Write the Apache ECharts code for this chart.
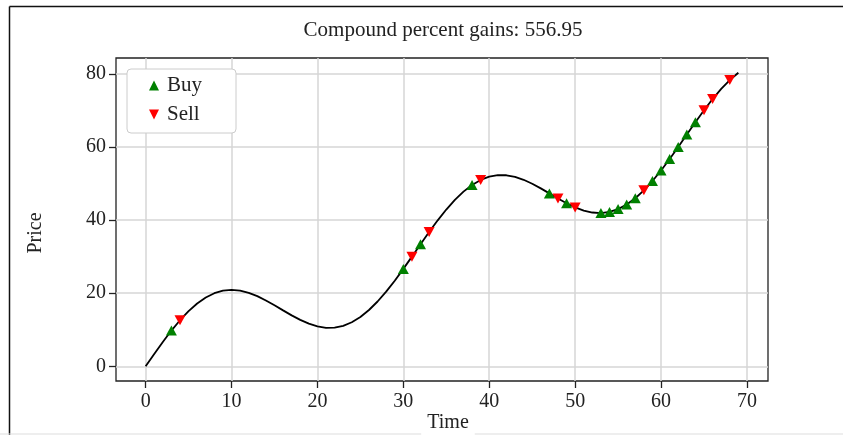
<!DOCTYPE html>
<html>
<head>
<meta charset="utf-8">
<script src="https://cdn.jsdelivr.net/npm/echarts@6/dist/echarts.min.js"></script>
<style>
html,body{margin:0;padding:0;background:#fff;}
#chart{width:843px;height:435px;}
</style>
</head>
<body>
<div id="chart"></div>
<script>
const times = [0,1,2,3,4,5,6,7,8,9,10,11,12,13,14,15,16,17,18,19,20,21,22,23,24,25,26,27,28,29,30,31,32,33,34,35,36,37,38,39,40,41,42,43,44,45,46,47,48,49,50,51,52,53,54,55,56,57,58,59,60,61,62,63,64,65,66,67,68,69];
const prices = [0,3.38,6.67,9.78,12.61,15.10,17.18,18.83,19.99,20.69,
  20.91,20.70,20.11,19.19,18.02,16.69,15.30,13.93,12.69,11.66,
  10.92,10.54,10.58,11.08,12.05,13.49,15.40,17.73,20.42,23.42,
  26.65,30.00,33.40,36.74,39.93,42.88,45.52,47.78,49.61,50.98,
  51.87,52.29,52.26,51.81,51.02,49.95,48.67,47.30,45.91,44.60,
  43.47,42.60,42.07,41.93,42.23,43.00,44.25,45.97,48.13,50.68,
  53.56,56.70,60.01,63.40,66.78,70.04,73.11,75.88,78.31,80.32];
const buyTimes = [3,30,32,38,47,49,53,54,55,56,57,59,60,61,62,63,64];
const sellTimes = [4,31,33,39,48,50,58,65,66,68];
const xTicks = [0,10,20,30,40,50,60,70];
const yTicks = [0,20,40,60,80];
const titleText = 'Compound percent gains: 556.95';
const xName = 'Time';
const yName = 'Price';

const FONT = "'Liberation Serif', 'DejaVu Serif', serif";
const chart = echarts.init(document.getElementById('chart'), null, {renderer: 'canvas'});

const lineData = times.map((t, i) => [t, prices[i]]);
const buyData = buyTimes.map(t => [t, prices[times.indexOf(t)]]);
const sellData = sellTimes.map(t => [t, prices[times.indexOf(t)]]);

const option = {
  animation: false,
  backgroundColor: '#ffffff',
  grid: {
    left: 116, right: 75, top: 58, bottom: 54,
    show: true, borderColor: '#222', borderWidth: 1.3,
    containLabel: false
  },
  legend: {
    orient: 'vertical',
    left: 127, top: 69,
    padding: [6, 34, 8, 22],
    itemWidth: 10, itemHeight: 10,
    itemGap: 8,
    backgroundColor: '#ffffff',
    borderColor: '#cccccc', borderWidth: 1, borderRadius: 4,
    textStyle: {fontFamily: FONT, fontSize: 21, lineHeight: 20, color: '#222', padding: [0,0,0,3]},
    data: ['Buy', 'Sell']
  },
  xAxis: {
    type: 'value', min: -3.45, max: 72.45,
    axisLine: {show: false, onZero: false},
    axisTick: {show: true, inside: false, length: 7, lineStyle: {color: '#222', width: 1.3}, customValues: xTicks},
    axisLabel: {fontFamily: FONT, fontSize: 20, color: '#222', margin: 11, customValues: xTicks},
    splitLine: {show: true, lineStyle: {color: '#d6d6d6', width: 1.5}}
  },
  yAxis: {
    type: 'value', min: -4.02, max: 84.34,
    axisLine: {show: false, onZero: false},
    axisTick: {show: true, inside: false, length: 7, lineStyle: {color: '#222', width: 1.3}, customValues: yTicks},
    axisLabel: {fontFamily: FONT, fontSize: 20, color: '#222', margin: 10, customValues: yTicks},
    splitLine: {show: true, lineStyle: {color: '#d6d6d6', width: 1.5}}
  },
  graphic: [
    {type: 'line', shape: {x1: 9.5, y1: 6.5, x2: 843, y2: 6.5}, style: {stroke: '#111', lineWidth: 1.5}, z: 1},
    {type: 'line', shape: {x1: 9.5, y1: 6.5, x2: 9.5, y2: 435}, style: {stroke: '#111', lineWidth: 1.5}, z: 1},
    {type: 'line', shape: {x1: 0, y1: 434, x2: 843, y2: 434}, style: {stroke: '#dddddd', lineWidth: 1}, z: 1},
    {type: 'text', x: 443, y: 30, z: 10,
      style: {text: titleText, fontFamily: FONT, fontSize: 21, fill: '#222', textAlign: 'center', textVerticalAlign: 'middle'}},
    {type: 'text', x: 448, y: 423, z: 10,
      style: {text: xName, fontFamily: FONT, fontSize: 20, fill: '#222', textAlign: 'center', textVerticalAlign: 'middle',
        backgroundColor: '#ffffff', padding: [2, 6, 2, 6]}},
    {type: 'text', x: 36, y: 233, rotation: Math.PI / 2, z: 10,
      style: {text: yName, fontFamily: FONT, fontSize: 20, fill: '#222', textAlign: 'center', textVerticalAlign: 'middle'}}
  ],
  series: [
    {
      name: 'Price', type: 'line', data: lineData,
      showSymbol: false, symbol: 'none', smooth: false,
      lineStyle: {color: '#000', width: 1.8}, z: 2, silent: true
    },
    {
      name: 'Buy', type: 'scatter', data: buyData,
      symbol: 'triangle', symbolSize: [11, 10],
      itemStyle: {color: '#008000', opacity: 1}, z: 3
    },
    {
      name: 'Sell', type: 'scatter', data: sellData,
      symbol: 'path://M0,0 L10,0 L5,10 Z', symbolSize: [11, 10],
      itemStyle: {color: '#ff0000', opacity: 1}, z: 3
    }
  ]
};
chart.setOption(option);
</script>
</body>
</html>
